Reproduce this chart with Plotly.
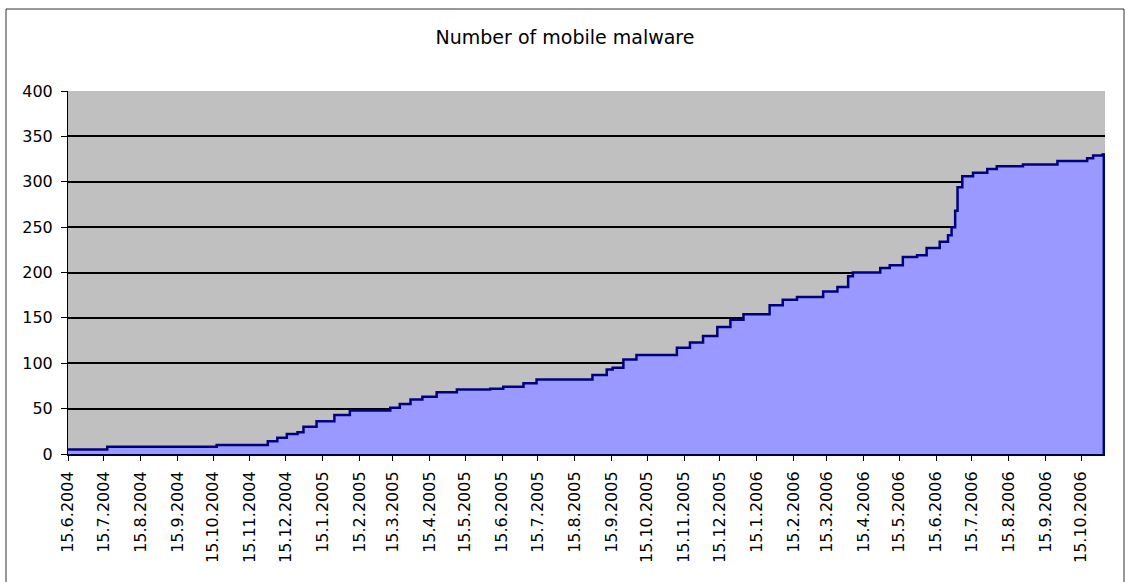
import plotly.graph_objects as go

# ---- data ----
dates = [
    "2004-06-15", "2004-07-18", "2004-10-18", "2004-11-30", "2004-12-08",
    "2004-12-16", "2004-12-25", "2004-12-30", "2005-01-10", "2005-01-25",
    "2005-02-07", "2005-03-13", "2005-03-21", "2005-03-30", "2005-04-09",
    "2005-04-21", "2005-05-08", "2005-06-05", "2005-06-16", "2005-07-03",
    "2005-07-14", "2005-08-30", "2005-09-11", "2005-09-16", "2005-09-25",
    "2005-10-06", "2005-11-09", "2005-11-20", "2005-12-01", "2005-12-13",
    "2005-12-24", "2006-01-04", "2006-01-26", "2006-02-06", "2006-02-18",
    "2006-03-12", "2006-03-24", "2006-04-02", "2006-04-06", "2006-04-29",
    "2006-05-07", "2006-05-18", "2006-05-30", "2006-06-07", "2006-06-18",
    "2006-06-25", "2006-06-28", "2006-07-01", "2006-07-03", "2006-07-07",
    "2006-07-16", "2006-07-28", "2006-08-05", "2006-08-27", "2006-09-25",
    "2006-10-20", "2006-10-25", "2006-11-02", "2006-11-03",
]
counts = [
    5, 8, 10, 14, 18,
    22, 24, 30, 36, 43,
    48, 51, 55, 60, 63,
    68, 71, 72, 74, 78,
    82, 87, 93, 95, 104,
    109, 117, 123, 130, 140,
    148, 154, 164, 170, 173,
    179, 184, 196, 200, 205,
    208, 217, 219, 227, 234,
    241, 250, 268, 294, 306,
    310, 314, 317, 319, 323,
    326, 329, 330, 331,
]
tick_dates = [
    "2004-06-15", "2004-07-15", "2004-08-15", "2004-09-15", "2004-10-15",
    "2004-11-15", "2004-12-15", "2005-01-15", "2005-02-15", "2005-03-15",
    "2005-04-15", "2005-05-15", "2005-06-15", "2005-07-15", "2005-08-15",
    "2005-09-15", "2005-10-15", "2005-11-15", "2005-12-15", "2006-01-15",
    "2006-02-15", "2006-03-15", "2006-04-15", "2006-05-15", "2006-06-15",
    "2006-07-15", "2006-08-15", "2006-09-15", "2006-10-15",
]
tick_labels = [
    "15.6.2004", "15.7.2004", "15.8.2004", "15.9.2004", "15.10.2004",
    "15.11.2004", "15.12.2004", "15.1.2005", "15.2.2005", "15.3.2005",
    "15.4.2005", "15.5.2005", "15.6.2005", "15.7.2005", "15.8.2005",
    "15.9.2005", "15.10.2005", "15.11.2005", "15.12.2005", "15.1.2006",
    "15.2.2006", "15.3.2006", "15.4.2006", "15.5.2006", "15.6.2006",
    "15.7.2006", "15.8.2006", "15.9.2006", "15.10.2006",
]
y_ticks = [0, 50, 100, 150, 200, 250, 300, 350, 400]
title_text = "Number of mobile malware"

# ---- layout geometry (pixels) ----
W, H = 1130, 582
L, R, T, B = 68, 25, 91, 128
pw, ph = W - L - R, H - T - B

def px_x(p):
    return (p - L) / pw

def px_y(p):
    return (H - B - p) / ph

FONT = "DejaVu Sans, Verdana, sans-serif"

fig = go.Figure()
fig.add_trace(go.Scatter(
    x=dates, y=counts, mode="lines", line_shape="hv",
    line=dict(color="#000080", width=2.5),
    fill="tozeroy", fillcolor="#9999FF",
    hoverinfo="x+y", showlegend=False,
))

fig.update_layout(
    template="none",
    width=W, height=H,
    margin=dict(l=L, r=R, t=T, b=B, pad=0),
    paper_bgcolor="white", plot_bgcolor="#C0C0C0",
    title=dict(text=title_text, x=565 / W, xref="container", xanchor="center",
               y=1 - 37 / H, yref="container", yanchor="middle",
               font=dict(family=FONT, size=19, color="black")),
    font=dict(family=FONT, size=16, color="black"),
    xaxis=dict(
        type="date", range=["2004-06-15", "2006-11-04"],
        tickvals=tick_dates, ticktext=tick_labels, tickangle=-90,
        ticks="outside", ticklen=5, tickcolor="black", tickwidth=1,
        ticklabelstandoff=4,
        showgrid=False, showline=True, linecolor="#000040", linewidth=2,
        zeroline=False, automargin=False,
        tickfont=dict(family=FONT, size=16, color="black"),
    ),
    yaxis=dict(
        range=[0, 400], tickvals=y_ticks,
        ticks="outside", ticklen=6, tickcolor="black", tickwidth=1,
        ticklabelstandoff=5,
        showgrid=True, gridcolor="black", gridwidth=2,
        showline=True, linecolor="black", linewidth=1,
        zeroline=False, automargin=False,
        tickfont=dict(family=FONT, size=16, color="black"),
    ),
    shapes=[
        dict(type="rect", xref="paper", yref="paper",
             x0=px_x(6), x1=px_x(1124), y0=px_y(600), y1=px_y(9),
             line=dict(color="#333333", width=1), fillcolor="rgba(0,0,0,0)",
             layer="below"),
        dict(type="line", xref="x", yref="y",
             x0=dates[-1], x1=dates[-1], y0=0, y1=counts[-1],
             line=dict(color="#000080", width=2.5)),
    ],
)

fig.write_html("out.html")
